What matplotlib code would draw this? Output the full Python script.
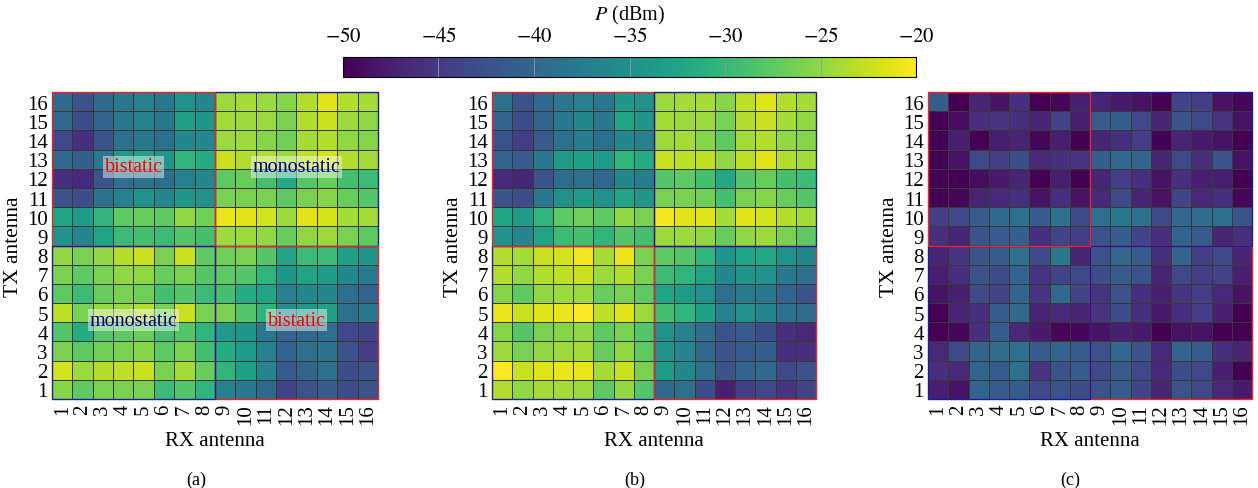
import numpy as np
import matplotlib
matplotlib.use("Agg")
import matplotlib.pyplot as plt
from matplotlib.patches import Rectangle

plt.rcParams['font.family'] = ['Liberation Serif', 'DejaVu Serif']
plt.rcParams['mathtext.fontset'] = 'stix'

antennas = list(range(1, 17))
vmin, vmax = -50, -20
cbar_ticks = [-50, -45, -40, -35, -30, -25, -20]

# received power (dBm), rows listed TX 16 (top) down to TX 1, columns RX 1..16
P_a = [
    [-40, -42.5, -40, -38, -37, -38, -35, -36, -24.5, -24, -24.5, -25.5, -23.5, -21.5, -23.5, -24],
    [-40, -43, -40.5, -38, -37, -38, -33, -34, -24, -24.5, -24.5, -26, -23.5, -22.5, -24.5, -25],
    [-43.5, -46, -42.5, -39, -38, -39, -36, -36, -24.5, -24.5, -25.5, -26.5, -24, -23.5, -25, -25.5],
    [-40, -41, -38, -33.5, -33, -34, -30.5, -31.5, -22.5, -23.5, -23.5, -24.5, -23, -22, -23.5, -24],
    [-46, -46.5, -42.5, -39, -39, -39, -37, -36, -27.5, -27, -29, -32, -28, -27, -29, -29.5],
    [-42.5, -43, -39, -37, -35, -36, -34, -35, -26, -26, -26, -27.5, -26, -25.5, -27, -28],
    [-32.5, -33.5, -30.5, -27.5, -27, -27.5, -25, -26.5, -21, -21.5, -22, -24.5, -21.5, -22, -24, -24],
    [-35, -36.5, -32.5, -29.5, -29, -29.5, -28, -29, -24.5, -24.5, -25, -27, -25, -24.5, -26, -27.5],
    [-25, -26, -25, -23.5, -22.5, -26, -22.5, -27.5, -26.5, -26, -28, -32.5, -29.5, -29.5, -33, -34],
    [-26, -27.5, -26, -25, -25, -27, -26, -28, -27.5, -28, -30.5, -34, -32.5, -33.5, -36, -37.5],
    [-27.5, -29.5, -27, -26, -26.5, -29, -28, -29.5, -29, -31.5, -32.5, -37, -36, -36, -39, -40.5],
    [-23, -26, -24.5, -24.5, -23.5, -26, -22.5, -26, -26, -28, -30.5, -35.5, -34, -33, -39, -38],
    [-28, -31.5, -28, -27.5, -27, -29, -28, -30.5, -33.5, -34, -38, -40.5, -40, -39, -43.5, -44],
    [-26, -27.5, -26.5, -26, -25.5, -27.5, -26, -29, -31.5, -33.5, -37, -40.5, -39, -39, -42.5, -44.5],
    [-22, -24.5, -23.5, -23, -22.5, -26, -24, -27, -30.5, -33, -36.5, -41.5, -40.5, -39, -43, -42.5],
    [-25.5, -27.5, -26, -26, -26, -29.5, -28, -30.5, -37, -38, -40, -44, -42.5, -41.5, -43, -42.5],
]

P_b = [
    [-39, -42.5, -40, -38, -37, -38, -34, -35, -24.5, -24, -24, -25.5, -23, -21.5, -23.5, -24],
    [-40.5, -43, -40.5, -38, -36, -38, -32.5, -34, -24, -24.5, -24.5, -26, -23.5, -22.5, -24, -25],
    [-42.5, -44.5, -41.5, -39, -37.5, -39, -36, -37, -24.5, -24, -25.5, -27.5, -24, -23.5, -25, -25.5],
    [-40.5, -41.5, -38, -33.5, -33, -33.5, -30.5, -31.5, -22.5, -23, -23, -25, -23, -21.5, -23.5, -24],
    [-46.5, -47, -42.5, -39.5, -39, -40, -36, -37.5, -28, -27.5, -29, -32, -28, -27, -29, -29.5],
    [-42.5, -43, -38, -35, -33.5, -35, -32.5, -34, -26, -26, -26.5, -29, -26, -25.5, -27, -28],
    [-32.5, -33.5, -30.5, -27.5, -26.5, -27.5, -25, -26, -20.5, -21.5, -21.5, -24, -21.5, -22, -23.5, -24],
    [-35, -36.5, -32.5, -29.5, -29, -30.5, -28, -29, -24.5, -24.5, -25, -27, -25, -24.5, -26, -27.5],
    [-23.5, -24, -22.5, -22, -20.5, -24, -21, -26, -27.5, -28, -30.5, -34, -32.5, -32, -35, -36],
    [-23.5, -25, -23.5, -23, -22.5, -24.5, -23.5, -26, -29.5, -30.5, -32.5, -36, -34, -35, -38, -39],
    [-25.5, -27.5, -25, -24.5, -24.5, -27, -26, -27.5, -32.5, -33.5, -35, -39, -37.5, -38, -40.5, -42.5],
    [-21, -22.5, -21.5, -21, -20.2, -23, -21.5, -24.5, -29, -30.5, -33, -37, -35, -36.5, -39, -39.5],
    [-25.5, -28, -26, -25.5, -25, -27.5, -26, -28, -35, -37, -39.5, -42.5, -41.5, -43, -46, -46.5],
    [-24.5, -26, -25, -24.5, -24, -27, -25, -27.5, -35, -36.5, -40, -42.5, -41.5, -41, -46, -46],
    [-20.2, -22.5, -21.5, -21, -21, -24, -22.5, -26, -33.5, -36, -39, -42.5, -40.5, -40, -43.5, -42.5],
    [-23.5, -25, -24, -24, -24.5, -27.5, -25, -28, -40, -39, -43, -47.5, -44.5, -43.5, -45.5, -44],
]

P_c = [
    [-41.5, -50, -47, -48.5, -46, -50, -49.5, -47.5, -47, -48, -48.5, -50, -44, -44.5, -48.5, -49.5],
    [-50, -49, -46, -45.5, -46, -47, -44, -47.5, -41.5, -41, -43.5, -47, -42.5, -43.5, -45.5, -48.5],
    [-50, -47.5, -50, -47.5, -47, -49.5, -47.5, -50, -47, -46, -44.5, -50, -47, -48, -48.5, -50],
    [-50, -48.5, -43.5, -44.5, -43, -46.5, -46, -45.5, -41, -40, -40.5, -47, -43.5, -46, -42.5, -48.5],
    [-50, -50, -49, -48, -47, -50, -47.5, -50, -47, -44.5, -46, -48.5, -46, -47.5, -47.5, -50],
    [-50, -49.5, -47, -46.5, -46, -48.5, -46, -48.5, -46.5, -43.5, -47, -48.5, -44, -46.5, -46, -49.5],
    [-44.5, -43.5, -41.5, -40, -39, -41.5, -39, -43.5, -39, -38, -39, -43.5, -40, -39.5, -39, -42.5],
    [-46, -47, -42.5, -41.5, -41, -46, -44, -44.5, -42.5, -41, -44, -46, -40.5, -41.5, -47, -46],
    [-47, -45.5, -42.5, -41.5, -39, -43.5, -38, -47, -42.5, -40, -41.5, -46, -40.5, -44.5, -43.5, -47],
    [-47.5, -46, -42.5, -43, -40.5, -45.5, -44, -43.5, -43, -41.5, -42.5, -47, -43.5, -44.5, -44, -47.5],
    [-48.5, -47.5, -43.5, -44, -40.5, -45.5, -40, -44, -45.5, -42.5, -46, -47.5, -45.5, -44.5, -46.5, -48.5],
    [-50, -47, -46, -41.5, -40, -47, -46.5, -47, -45.5, -43, -46, -48, -46, -44.5, -47.5, -50],
    [-50, -49.5, -46, -41.5, -46.5, -48, -49.5, -49.5, -48.5, -47.5, -48, -50, -48.5, -48.5, -50, -50],
    [-46.5, -43.5, -40.5, -39.5, -39, -41.5, -40.5, -41.5, -42.5, -40, -42.5, -46.5, -40.5, -41.5, -46, -47],
    [-46, -46.5, -40.5, -41.5, -39, -45.5, -42.5, -41.5, -43.5, -41.5, -43.5, -46.5, -43, -43.5, -47.5, -50],
    [-47.5, -48.5, -40.5, -41.5, -41.5, -43.5, -42.5, -43, -42.5, -41.5, -44, -47, -42.5, -43.5, -46.5, -48],
]

red = '#e8262a'
blue = '#1c1c96'
lo, mid, hi = 0.5, 8.5, 16.5
quads = {'TL': (lo, mid), 'TR': (mid, mid), 'BL': (lo, lo), 'BR': (mid, lo)}
# drawing order decides which colour sits on the shared edges
orders = [
    [('TR', blue), ('TL', red), ('BR', red), ('BL', blue)],
    [('BL', blue), ('TL', red), ('BR', red), ('TR', blue)],
    [('BR', red), ('TR', blue), ('BL', blue), ('TL', red)],
]

fig = plt.figure(figsize=(12.58, 4.89), dpi=100)
lefts = [52 / 1258, 492 / 1258, 928 / 1258]
widths = [326 / 1258, 324 / 1258, 324 / 1258]
caption_x = [196 / 1258, 635 / 1258, 1070 / 1258]
captions = ['(a)', '(b)', '(c)']

for k, data in enumerate([P_a, P_b, P_c]):
    ax = fig.add_axes([lefts[k], 1 - 400 / 489, widths[k], 307 / 489])
    z = np.array(data)[::-1]
    mesh = ax.pcolormesh(antennas, antennas, z, cmap='viridis', vmin=vmin, vmax=vmax,
                         shading='nearest', edgecolors='#383838', linewidth=0.6)
    ax.set_xlim(lo, hi)
    ax.set_ylim(lo, hi)
    ax.set_xticks(antennas)
    ax.set_yticks(antennas)
    ax.set_xticklabels([str(a) for a in antennas], rotation=90, fontsize=15)
    ax.set_yticklabels([str(a) for a in antennas], fontsize=15)
    ax.tick_params(length=0, pad=3)
    for s in ax.spines.values():
        s.set_visible(False)
    ax.set_xlabel('RX antenna', fontsize=15, labelpad=5)
    ax.set_ylabel('TX antenna', fontsize=15.5, labelpad=3)
    for name, col in orders[k]:
        x0, y0 = quads[name]
        ax.add_patch(Rectangle((x0, y0), 8, 8, fill=False, edgecolor=col,
                               linewidth=1.0, clip_on=False))
    fig.text(caption_x[k], 1 - 480 / 489, captions[k], ha='center', va='center', fontsize=13)

    if k == 0:
        box = dict(facecolor='white', alpha=0.45, edgecolor='none', pad=1.0)
        ax.text(4.5, 12.6, 'bistatic', color='red', fontsize=14.5, ha='center', va='center', bbox=box)
        ax.text(12.5, 12.6, 'monostatic', color='#000080', fontsize=14.5, ha='center', va='center', bbox=box)
        ax.text(4.5, 4.6, 'monostatic', color='#000080', fontsize=14.5, ha='center', va='center', bbox=box)
        ax.text(12.5, 4.6, 'bistatic', color='red', fontsize=14.5, ha='center', va='center', bbox=box)

cax = fig.add_axes([343 / 1258, 1 - 78 / 489, 573 / 1258, 20 / 489])
cb = fig.colorbar(mesh, cax=cax, orientation='horizontal', ticks=cbar_ticks)
cax.xaxis.set_ticks_position('top')
cax.xaxis.set_label_position('top')
cax.set_xticklabels(['$%d$' % t for t in cbar_ticks])
cax.tick_params(direction='in', length=14.4, width=0.6, color='#999999', labelsize=15, pad=8)
cb.outline.set_linewidth(0.8)
cb.set_label('$P$ (dBm)', fontsize=14.5, labelpad=5)

fig.savefig('out.png', dpi=100)
